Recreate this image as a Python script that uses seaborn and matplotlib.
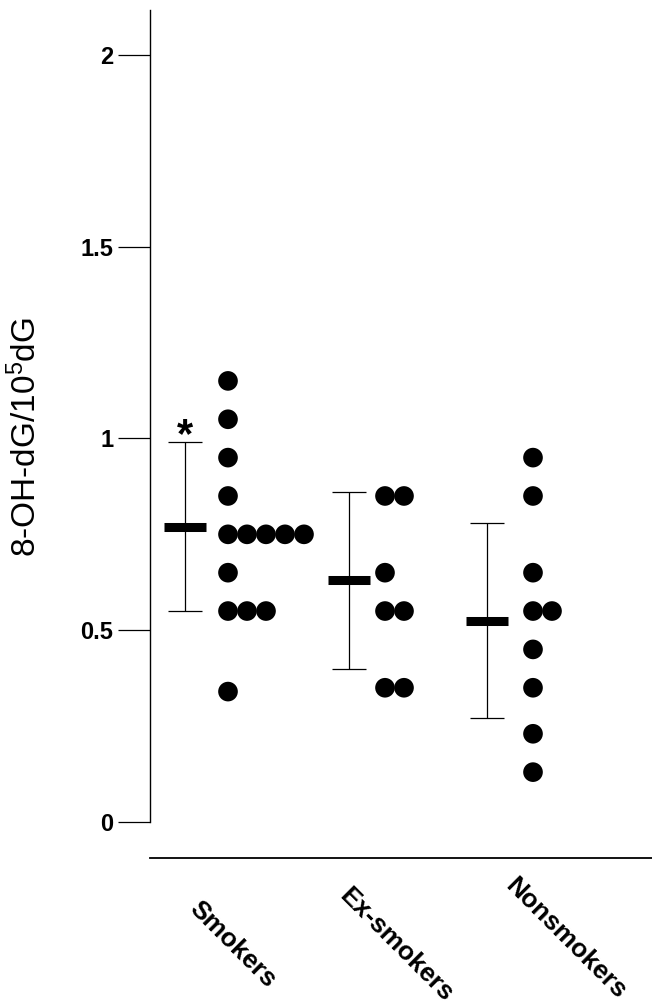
import numpy as np
import pandas as pd
import matplotlib
matplotlib.use("Agg")
import matplotlib.pyplot as plt
import seaborn as sns

# ---- data ----
categories = ["Smokers", "Ex-smokers", "Nonsmokers"]
smokers = [1.15, 1.05, 0.95, 0.85, 0.75, 0.75, 0.75, 0.75, 0.75, 0.65, 0.55, 0.55, 0.55, 0.34]
ex_smokers = [0.85, 0.85, 0.65, 0.55, 0.55, 0.35, 0.35]
nonsmokers = [0.95, 0.85, 0.65, 0.55, 0.55, 0.45, 0.35, 0.23, 0.13]
means = [0.77, 0.63, 0.525]
sds = [0.22, 0.23, 0.255]
yticks = [0, 0.5, 1, 1.5, 2]
ytick_labels = ["0", "0.5", "1", "1.5", "2"]
ylabel = "8-OH-dG/10$^{5}$dG"

# ---- layout (axis units = pixels from the y axis) ----
err_x = np.array([35, 199, 337])
dot_x0 = np.array([78, 235, 383])
dot_step = 19
bar_half = 21
label_pos = [(52, -0.092), (202, -0.076), (368, -0.063)]

sns.set_style("ticks")
plt.rcParams["font.family"] = ["Liberation Sans", "DejaVu Sans"]
plt.rcParams["mathtext.fontset"] = "custom"
plt.rcParams["mathtext.rm"] = "Liberation Sans"
plt.rcParams["mathtext.it"] = "Liberation Sans"
plt.rcParams["mathtext.default"] = "regular"
plt.rcParams["text.color"] = "black"
plt.rcParams["axes.labelcolor"] = "black"

groups = [smokers, ex_smokers, nonsmokers]
rows = []
for gi, vals in enumerate(groups):
    for v in vals:
        rows.append({"group": categories[gi], "gi": gi, "value": v})
df = pd.DataFrame(rows)
df["rank"] = df.groupby(["gi", "value"]).cumcount()
df["xpos"] = dot_x0[df["gi"].to_numpy()] + df["rank"] * dot_step

fig = plt.figure(figsize=(6.52, 10.05), dpi=100)
ax = fig.add_axes([150 / 652, 183 / 1005, 502 / 652, 812 / 1005])

sns.scatterplot(data=df, x="xpos", y="value", color="black", s=200,
                edgecolor="none", linewidth=0, ax=ax, legend=False)

ax.errorbar(err_x, means, yerr=sds, fmt="none", ecolor="black",
            elinewidth=0.9, capsize=12, capthick=0.9)
ax.hlines(means, err_x - bar_half, err_x + bar_half, colors="black", linewidth=6.5)

ax.text(err_x[0], means[0] + sds[0] - 0.013, "*", ha="center", va="baseline",
        fontsize=30, fontweight="bold", color="black")

ax.set_xlim(0, 502)
ax.set_ylim(0, 2.117)
ax.set_yticks(yticks)
ax.set_yticklabels(ytick_labels, fontsize=17, fontweight="bold")
ax.tick_params(axis="y", direction="out", length=23, width=0.9, pad=3.5,
               colors="black", labelcolor="black")
ax.set_xticks([])
ax.set_xlabel("")
ax.set_ylabel(ylabel, fontsize=24, color="black")
ax.yaxis.set_label_coords(-0.212, 0.474)

for sp in ["top", "right"]:
    ax.spines[sp].set_visible(False)
ax.spines["left"].set_linewidth(1.0)
ax.spines["left"].set_color("black")
ax.spines["bottom"].set_position(("outward", 26))
ax.spines["bottom"].set_linewidth(1.3)
ax.spines["bottom"].set_color("black")

xt = ax.get_xaxis_transform()
for name, (lx, ly) in zip(categories, label_pos):
    ax.text(lx, ly, name, transform=xt, rotation=-45, rotation_mode="anchor",
            ha="left", va="top", fontsize=19, fontweight="bold", color="black")

fig.savefig("out.png", dpi=100)
